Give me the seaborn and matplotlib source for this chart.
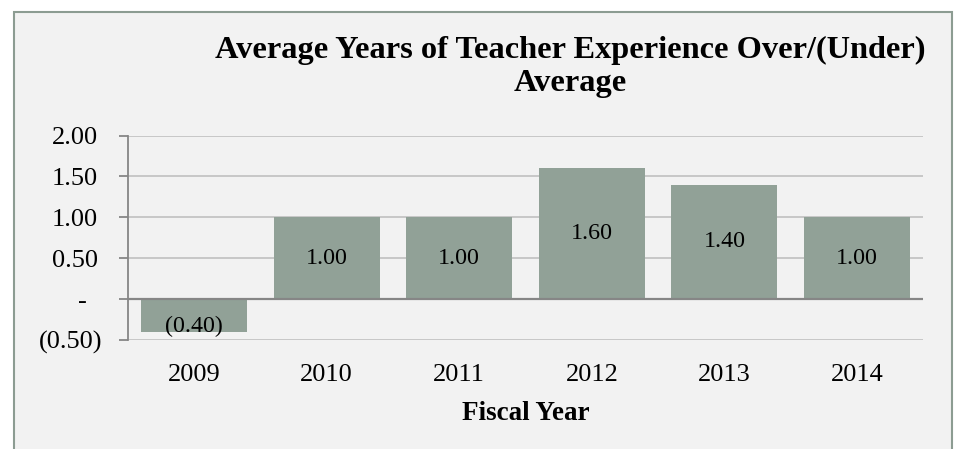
import matplotlib
matplotlib.use("Agg")
import matplotlib.pyplot as plt
import matplotlib.transforms as mtransforms
import seaborn as sns
import pandas as pd
from matplotlib.patches import Rectangle

# Data
fiscal_years = ["2009", "2010", "2011", "2012", "2013", "2014"]
experience_diff = [-0.40, 1.00, 1.00, 1.60, 1.40, 1.00]
y_ticks = [-0.5, 0.0, 0.5, 1.0, 1.5, 2.0]
y_tick_labels = ["(0.50)", "-", "0.50", "1.00", "1.50", "2.00"]

title = "Average Years of Teacher Experience Over/(Under)\nAverage"
x_title = "Fiscal Year"

bg = "#f2f2f2"
bar_color = "#91a197"
axis_gray = "#868686"
grid_gray = "#c4c4c4"

sns.set_theme(style="white")
plt.rcParams["font.family"] = ["Liberation Serif", "DejaVu Serif"]
plt.rcParams["text.color"] = "black"
plt.rcParams["axes.labelcolor"] = "black"

fig = plt.figure(figsize=(9.61, 4.49), dpi=100)
fig.patch.set_facecolor("white")

# Chart area with thin border (runs off the bottom edge)
fig.patches.append(Rectangle((14 / 961, -0.05), (952 - 14) / 961, 1.05 - 12 / 449,
                             transform=fig.transFigure, facecolor=bg,
                             edgecolor="#8c9c92", linewidth=1.5, zorder=-10))

ax = fig.add_axes([0.1329, 0.2428, 0.8279, 0.4554])
ax.set_zorder(1)
ax.set_facecolor(bg)

df = pd.DataFrame({"year": fiscal_years, "value": experience_diff})
sns.barplot(data=df, x="year", y="value", color=bar_color, saturation=1,
            width=0.8, linewidth=0, edgecolor="none", ax=ax, zorder=3)

ax.set_ylim(-0.5, 2.0)
ax.set_yticks(y_ticks)
ax.set_yticklabels(y_tick_labels)
for y in y_ticks:
    if y != 0:
        ax.axhline(y, color=grid_gray, linewidth=1.3, zorder=1)
ax.axhline(0, color=axis_gray, linewidth=1.6, zorder=4)

for s in ["top", "right", "bottom"]:
    ax.spines[s].set_visible(False)
ax.spines["left"].set_color(axis_gray)
ax.spines["left"].set_linewidth(1.3)

ax.tick_params(axis="y", which="major", left=True, length=6.5, width=1.3,
               color=axis_gray, labelsize=19, pad=15, labelcolor="black")
ax.tick_params(axis="x", bottom=False, labelsize=19, pad=11, labelcolor="black")

ax.set_xlabel(x_title, fontsize=19.5, fontweight="bold", labelpad=11)
ax.set_ylabel("")

# Accounting-style alignment: parentheses hang right, the dash sits inset
label_shift = {"(0.50)": 3.6, "-": -8.0}
for lbl in ax.get_yticklabels():
    dx = label_shift.get(lbl.get_text(), 0)
    if dx:
        lbl.set_transform(lbl.get_transform() +
                          mtransforms.ScaledTranslation(dx / 72, 0, fig.dpi_scale_trans))

# Value labels in the middle of each bar
for patch, v in zip(ax.patches, experience_diff):
    label = f"({abs(v):.2f})" if v < 0 else f"{v:.2f}"
    cx = patch.get_x() + patch.get_width() / 2
    offset = -8 if v < 0 else 0
    ax.annotate(label, (cx, v / 2), xytext=(0, offset), textcoords="offset points",
                ha="center", va="center", fontsize=17.3, color="black", zorder=5)

fig.text(0.593, 0.851, title, ha="center", va="center", fontsize=23.3,
         fontweight="bold", linespacing=1.2, color="black")

fig.savefig("out.png", dpi=100, facecolor=fig.get_facecolor())
